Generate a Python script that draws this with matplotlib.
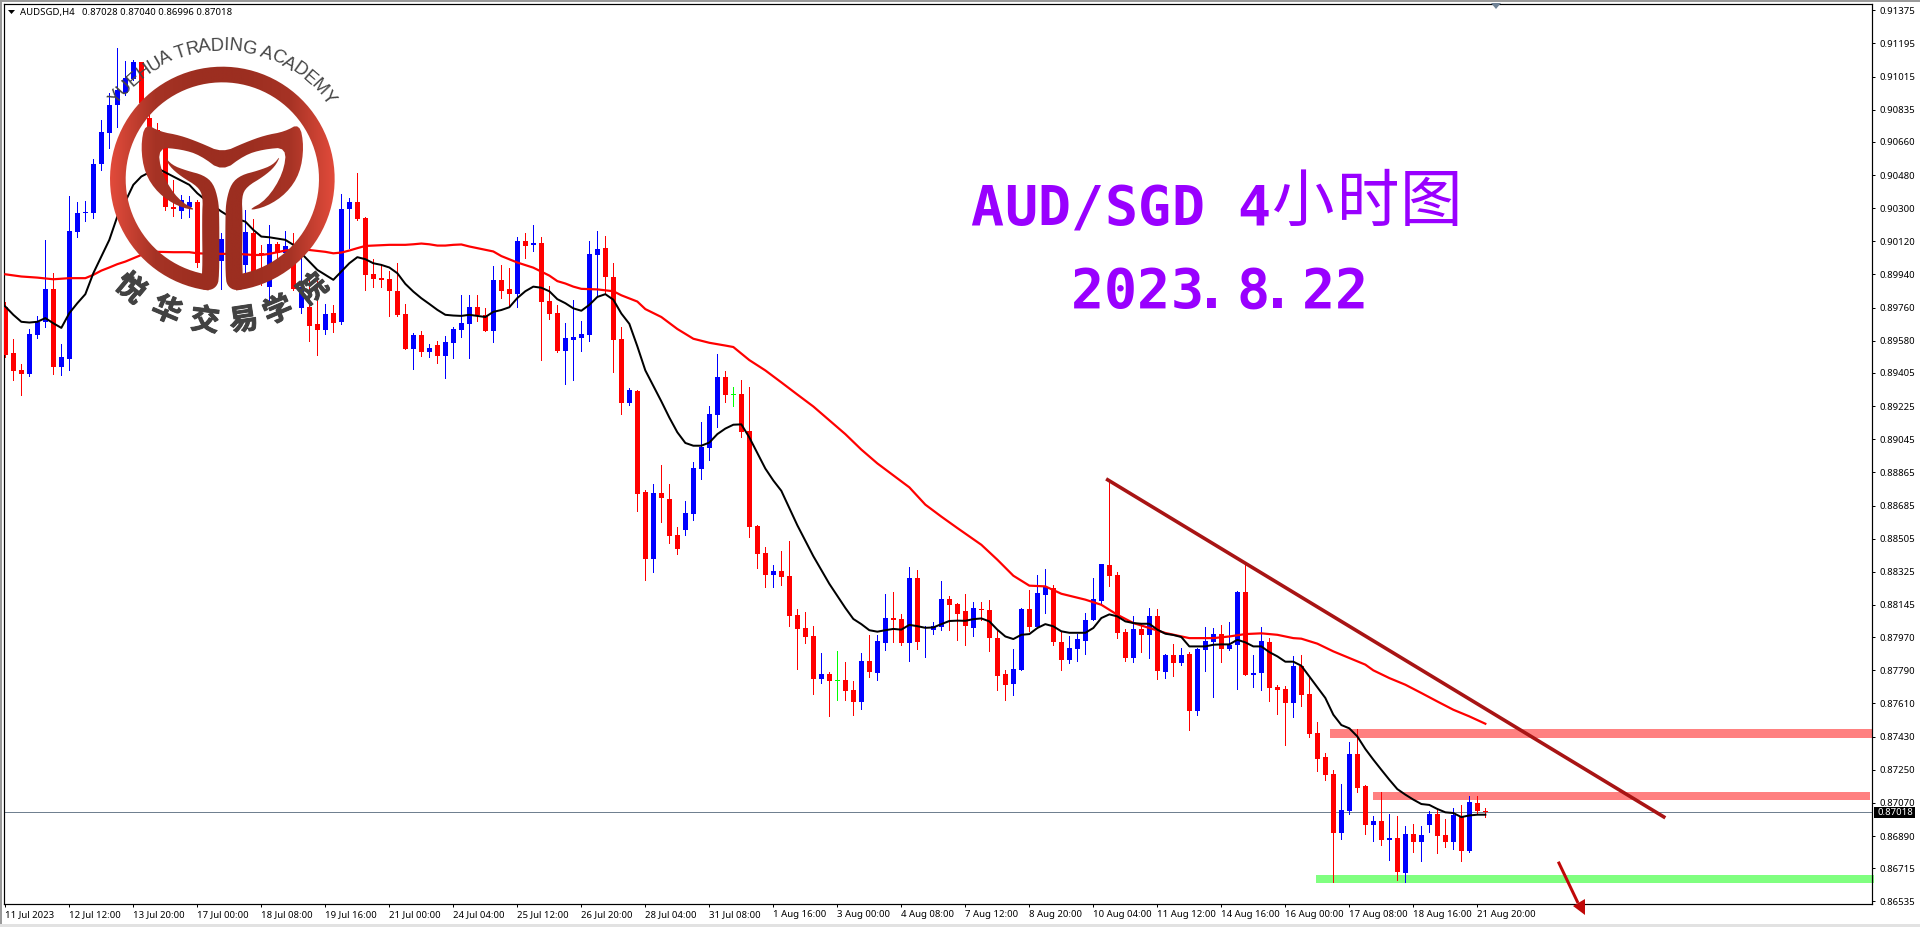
import numpy as np
import matplotlib
matplotlib.use('Agg')
import matplotlib.pyplot as plt
import matplotlib.patheffects as pe
from matplotlib.path import Path
from matplotlib.patches import PathPatch, Rectangle, Polygon
from matplotlib.colors import LinearSegmentedColormap
from matplotlib.font_manager import FontProperties
from matplotlib.textpath import text_to_path

# prices are kept in points (0.00001), bar by bar
opens = [89766,89512,89422,89400,89612,89681,89862,89440,89483,90171,
         90273,90276,90540,90709,90861,90924,91002,91094,90790,90725,
         90635,90305,90287,90305,90334,90010,89983,90014,90133,90182,
         89992,90166,90059,89873,90106,90055,90037,89757,89766,89672,
         89639,89731,89684,90296,90334,90247,89943,89921,89916,89851,
         89726,89536,89612,89520,89558,89498,89569,89639,89672,89764,
         89722,89634,89911,89863,89835,90122,90100,90111,89797,89732,
         89526,89584,89595,89612,90046,90085,89926,89590,89240,89307,
         88759,88393,88754,88722,88525,88550,88640,88886,88999,89178,
         89384,89288,89292,89090,88574,88428,88309,88331,88303,88092,
         88021,87978,87744,87772,87731,87738,87684,87619,87841,87778,
         87940,88075,88069,87940,88292,87948,88008,88026,88176,88152,
         88114,88021,88123,88119,87967,87772,87717,87793,88125,88027,
         88201,88239,87945,87848,87907,87951,88065,88168,88364,88309,
         88000,87859,88016,87983,88087,87783,87875,87831,87880,87571,
         87902,87945,87989,87907,87929,88217,87766,87777,87945,87701,
         87690,87614,87815,87663,87451,87321,87229,86908,87028,87337,
         87163,86952,86973,86870,86881,86691,86903,86859,86952,87011,
         86897,86859,87001,86811,87071,87028]
closes = [89503,89418,89400,89617,89684,89862,89440,89493,90177,90273,
          90276,90540,90714,90861,90942,91006,91094,90870,90707,90635,
          90309,90293,90345,90334,90003,89983,90037,90133,90182,90073,
          90171,89956,90045,90106,90055,90095,89860,89874,89661,89636,
          89726,89677,90296,90334,90242,89938,89916,89911,89851,89720,
          89536,89612,89520,89541,89498,89574,89645,89677,89764,89721,
          89634,89911,89851,89835,90122,90094,90109,89791,89726,89526,
          89595,89601,89618,90051,90079,89926,89582,89240,89313,88748,
          88393,88754,88724,88522,88451,88645,88890,89004,89184,89384,
          89287,89288,89085,88569,88423,88309,88331,88297,88086,88015,
          87970,87744,87772,87733,87731,87678,87619,87841,87781,87950,
          88075,88064,87940,88292,87946,87951,88030,88176,88146,88097,
          88029,88130,88116,87964,87761,87712,87799,88125,88027,88212,
          88244,87945,87848,87913,87962,88065,88179,88369,88304,87994,
          87859,88016,87983,88087,87788,87875,87831,87875,87571,87907,
          87951,87989,87907,87929,88217,87766,87775,87951,87696,87685,
          87614,87815,87658,87446,87310,87223,86908,87033,87337,87153,
          86952,86973,86870,86881,86696,86903,86859,86897,87011,86892,
          86859,87006,86811,87077,87028,87018]
highs = [89793,89588,89454,89643,89715,90128,89947,89563,90367,90334,
         90340,90568,90779,90924,91170,91100,91105,91094,90816,90761,
         90653,90454,90372,90367,90345,90019,90055,90166,90218,90200,
         90291,90242,90101,90209,90119,90177,90166,90037,89929,89929,
         89780,89775,90378,90356,90492,90253,90025,89992,89959,90003,
         89780,89621,89634,89563,89579,89607,89657,89829,89829,89829,
         89758,89986,89992,89977,90145,90165,90210,90145,89877,89775,
         89677,89803,89690,90122,90177,90149,90003,89655,89324,89313,
         88769,88802,88903,88802,88567,88712,88920,89139,89223,89509,
         89414,89330,89369,89330,88580,88460,88363,88439,88494,88123,
         88108,88032,87886,87779,87895,87835,87733,87886,87983,87983,
         88206,88217,88097,88352,88335,88030,88054,88277,88195,88157,
         88206,88159,88163,88174,88002,87793,87907,88130,88228,88309,
         88342,88255,88005,87974,87989,88103,88293,88369,88829,88326,
         88016,88087,88043,88130,88125,87880,87935,87913,87891,87909,
         88027,88021,88038,88054,88222,88373,87875,88027,87967,87712,
         87706,87869,87875,87757,87511,87341,87250,87174,87402,87473,
         87169,87001,87131,87011,87001,86946,86957,86946,87028,87033,
         86984,87044,87060,87109,87109,87040]
lows = [89494,89368,89286,89389,89596,89657,89400,89395,89422,90144,
        90231,90247,90508,90627,90741,90915,90997,90834,90689,90598,
        90291,90258,90247,90253,89981,89956,89965,89862,90110,90037,
        89947,89929,89883,89784,90001,89965,89856,89730,89581,89503,
        89617,89628,89672,90084,90236,89856,89873,89873,89715,89715,
        89536,89427,89498,89493,89460,89378,89487,89601,89487,89688,
        89634,89575,89812,89775,89765,90031,90065,89475,89698,89520,
        89346,89369,89526,89576,89821,89840,89408,89184,89229,88656,
        88282,88322,88597,88482,88423,88527,88608,88830,88933,89113,
        89245,89227,89060,88512,88348,88243,88243,88251,88030,87798,
        87936,87660,87723,87540,87630,87630,87546,87581,87755,87740,
        87901,87942,87929,87843,87906,87863,87989,88011,88008,87955,
        87929,87974,88065,87893,87685,87627,87658,87793,88005,88020,
        88099,87929,87790,87828,87842,87880,88065,88152,88250,87967,
        87842,87837,87891,87859,87745,87750,87761,87821,87468,87549,
        87788,87647,87837,87902,87690,87766,87701,87685,87625,87554,
        87386,87538,87598,87430,87245,87196,86639,86876,87011,87131,
        86903,86865,86843,86762,86653,86639,86805,86756,86914,86800,
        86832,86821,86756,86805,87011,86996]

# fast moving average, read bar by bar (a few bars sit behind the logo)
fast_bars = list(range(0, 18)) + [19, 21, 23, 24, 25, 27, 28] + list(range(30, 34)) + list(range(35, 186))
fast_ma = [89766,89721,89683,89679,89683,89703,89675,89650,89730,89784,89833,89947,90037,90128,90255,90336,90427,90472,
           90517,90472,90427,90381,90345,90282,90255,
           90227,90182,90146,90142,
           90128,90101,90055,90010,89965,89938,89911,89956,90001,90034,90023,90001,89992,89978,89947,89889,89847,89811,89780,89748,89721,89717,89715,89721,89715,
           89709,89737,89747,89762,89812,89849,89874,89868,89849,89806,89784,89756,89743,89775,89818,89833,89803,89728,89672,89550,
           89419,89335,89251,89163,89083,89025,89010,89010,89027,89073,89103,89124,89126,89055,88971,88886,88821,88765,88671,88578,
           88494,88410,88335,88260,88195,88129,88069,88041,88008,88000,88008,88015,88011,88037,88030,88021,88023,88041,88058,88060,
           88059,88068,88072,88056,88011,87974,87960,87983,87987,88020,88041,88029,88002,87994,87994,87994,88020,88074,88094,88083,
           88056,88047,88043,88043,88011,87989,87982,87971,87920,87920,87920,87929,87931,87931,87956,87942,87920,87920,87889,87866,
           87837,87837,87815,87757,87699,87640,87549,87493,87475,87431,87363,87305,87250,87196,87145,87115,87088,87064,87059,87037,
           87019,87015,86993,87002,87006,87006]

# slow moving average, read at the bars where it bends
slow_bars = [0,2,4,6,8,10,11,12,13,14,15,16,17,19,21,23,24,26,29,31,32,33,34,35,36,38,40,41,42,43,44,45,46,48,50,51,52,53,54,55,56,57,58,59,
             60,61,62,64,66,68,69,70,71,72,74,76,77,79,80,82,84,86,88,90,91,93,95,97,99,101,103,105,107,109,111,113,115,117,119,
             122,124,126,128,130,132,135,137,139,141,143,145,148,151,153,155,157,159,161,162,164,166,168,170,171,173,175,177,179,181,183,185]
slow_ma = [89941,89929,89923,89914,89920,89920,89938,89961,89978,89996,90010,90028,90046,90063,90061,90061,90055,90052,90052,90046,90046,90052,90061,90070,90073,90073,90063,90055,90059,90070,90083,90095,90097,90101,90101,90104,90108,90104,90097,90097,90101,90103,90092,90083,
           90074,90065,90040,90005,89977,89934,89904,89891,89874,89862,89859,89849,89827,89793,89752,89709,89644,89591,89569,89554,89546,89475,89419,89354,89288,89223,89148,89073,88989,88914,88849,88784,88690,88625,88563,
           88472,88391,88304,88250,88246,88206,88174,88146,88092,88047,88020,87993,87965,87965,87974,87987,87991,87983,87965,87962,87935,87893,87857,87821,87790,87748,87712,87667,87621,87576,87540,87500]

y_ticks = [0.91375,0.91195,0.91015,0.90835,0.90660,0.90480,0.90300,0.90120,0.89940,0.89760,0.89580,0.89405,0.89225,0.89045,
           0.88865,0.88685,0.88505,0.88325,0.88145,0.87970,0.87790,0.87610,0.87430,0.87250,0.87070,0.86890,0.86715,0.86535]
x_labels = ['11 Jul 2023','12 Jul 12:00','13 Jul 20:00','17 Jul 00:00','18 Jul 08:00','19 Jul 16:00','21 Jul 00:00','24 Jul 04:00',
            '25 Jul 12:00','26 Jul 20:00','28 Jul 04:00','31 Jul 08:00','1 Aug 16:00','3 Aug 00:00','4 Aug 08:00','7 Aug 12:00',
            '8 Aug 20:00','10 Aug 04:00','11 Aug 12:00','14 Aug 16:00','16 Aug 00:00','17 Aug 08:00','18 Aug 16:00','21 Aug 20:00']

W, H = 1920, 927
PX = 72 / 100  # one pixel in points
UI_FONT = 'Noto Sans'

fig = plt.figure(figsize=(W / 100, H / 100), dpi=100, facecolor='white')
ax = fig.add_axes([4 / W, 1 - 904 / H, (1872 - 4) / W, (904 - 4) / H])
ax.set_xlim((4 - 5.33) / 8, (1872 - 5.33) / 8)
ax.set_ylim(0.86521, 0.91409)

o = np.array(opens) / 1e5
c = np.array(closes) / 1e5
hi = np.array(highs) / 1e5
lo = np.array(lows) / 1e5
bars = np.arange(len(o))
colors = ['#00FF00' if a == b else ('#0000FF' if b > a else '#FF0000') for a, b in zip(o, c)]

# zones behind the candles
ax.add_patch(Rectangle((165.6, 0.87425), 70, 0.00047, color='#FF8080', lw=0, zorder=1))
ax.add_patch(Rectangle((171, 0.87087), 62.1, 0.00043, color='#FF8080', lw=0, zorder=1))
ax.add_patch(Rectangle((163.8, 0.86636), 69.8, 0.00044, color='#80FF80', lw=0, zorder=1, clip_on=False))

ax.axhline(0.87018, color='#708090', lw=PX, zorder=1.5)

ax.vlines(bars, lo, hi, colors=colors, lw=PX * 0.8, zorder=2, antialiased=False)
ax.bar(bars, np.maximum(np.abs(c - o), 0.00004), bottom=np.minimum(o, c), width=0.64, color=colors, lw=0, zorder=3, antialiased=False)

ax.plot(slow_bars, np.array(slow_ma) / 1e5, color='#FF0000', lw=PX * 2.2, zorder=4)
ax.plot(fast_bars, np.array(fast_ma) / 1e5, color='#000000', lw=PX * 2, zorder=5)
ax.plot([137.6, 207.5], [0.88830, 0.86989], color='#A81414', lw=PX * 3.6, zorder=6, solid_capstyle='butt')

ax.yaxis.tick_right()
ax.set_yticks(y_ticks)
ax.set_yticklabels(['%.5f' % v for v in y_ticks], fontsize=6.9, family=UI_FONT)
ax.set_xticks(np.arange(len(x_labels)) * 8)
ax.set_xticklabels(x_labels, fontsize=6.9, family=UI_FONT, ha='left')
ax.tick_params(axis='y', length=3 * PX, width=PX, pad=3)
ax.tick_params(axis='x', length=3 * PX, width=PX, pad=2)
for s in ax.spines.values():
    s.set_linewidth(PX * 1.2)

# overlay in pixel coordinates for everything pasted on top of the chart
top = fig.add_axes([0, 0, 1, 1], facecolor='none', zorder=10)
top.set_xlim(0, W)
top.set_ylim(H, 0)
top.axis('off')

top.add_patch(Rectangle((0, 0), W, 2, color='#9A9A9A', lw=0))
top.add_patch(Rectangle((0, 0), 2, H, color='#9A9A9A', lw=0))
top.add_patch(Rectangle((0, 924), W, 3, color='#E2E2E2', lw=0))

top.add_patch(Polygon([[8, 10], [15, 10], [11.5, 14]], color='black', lw=0))
top.text(20.5, 12.5, 'AUDSGD,H4', fontsize=6.9, family=UI_FONT, va='center', ha='left')
top.text(82, 12.5, '0.87028 0.87040 0.86996 0.87018', fontsize=6.9, family=UI_FONT, va='center', ha='left')
top.add_patch(Polygon([[1491, 3], [1501, 3], [1496, 9]], color='#6F8296', lw=0))
top.add_patch(Rectangle((1874, 807), 41, 11, color='black', lw=0))
top.text(1878, 812.7, '0.87018', color='white', fontsize=6.9, family=UI_FONT, va='center', ha='left')

# title text, each character in its own cell like the monospaced original
PURPLE = '#9900FF'


def cell_text(s, x0, baseline, step=33.4):
    for i, ch in enumerate(s):
        shift = -8 if ch == '.' else 0
        top.text(x0 + i * step + shift, baseline, ch, color=PURPLE, fontsize=39.5, family='DejaVu Sans Mono', weight='bold',
                 va='baseline', ha='center')


cell_text('AUD/SGD 4', 987, 224.7)
cell_text('2023.8.22', 1087.7, 308, step=33)
for ch, x in zip('小时图', [1303, 1368, 1431]):
    top.text(x, 203, ch, color=PURPLE, fontsize=45, family='Noto Sans CJK SC', va='center', ha='center')

# down arrow
top.plot([1558.3, 1578], [861.7, 903], color='#C00808', lw=PX * 3, solid_capstyle='butt')
top.add_patch(Polygon([[1585, 915], [1573, 906], [1585, 899]], color='#C00808', lw=0))


# logo, shapes traced at 3x around (100, 30)
def chaikin(pts, n=2):
    pts = np.array(pts, dtype=float)
    for _ in range(n):
        nxt = np.roll(pts, -1, axis=0)
        pts = np.column_stack([0.75 * pts + 0.25 * nxt, 0.25 * pts + 0.75 * nxt]).reshape(-1, 2)
    return pts


def mirror(pts):
    return [(734 - x, y) for x, y in pts]


cx, cy = 367, 447
t = np.radians(np.linspace(7, 353, 200))
outer = np.column_stack([cx - 337 * np.sin(t), cy + 337 * np.cos(t)])
t2 = np.radians(np.linspace(349, 11, 200))
inner = np.column_stack([cx - 290 * np.sin(t2), cy + 290 * np.cos(t2)])
ring = np.vstack([outer, inner])

sprout = [(192, 376), (215, 405), (260, 422), (310, 435), (340, 460), (355, 510), (358, 560), (358, 745), (350, 770), (328, 782),
          (298, 776), (308, 735), (306, 560), (309, 500), (294, 470), (244, 440), (209, 410)]
horn = [(135, 280), (180, 305), (240, 316), (300, 338), (367, 368), (434, 338), (494, 316), (554, 305), (599, 280),
        (612, 350), (600, 430), (560, 490), (500, 530), (440, 543), (500, 510), (550, 430), (560, 352), (490, 358), (434, 375),
        (367, 425), (300, 375), (244, 358), (174, 352), (184, 430), (234, 510), (294, 543), (234, 530), (174, 490), (134, 430), (122, 350)]

grad = LinearSegmentedColormap.from_list('logo', ['#E24B3B', '#A63325', '#9C2E20', '#9C2E20', '#A63325', '#E24B3B'])
for shape in [ring, chaikin(sprout), chaikin(mirror(sprout)), chaikin(horn)]:
    pts = np.array([[100, 30]]) + np.array(shape) / 3
    patch = PathPatch(Path(np.vstack([pts, pts[:1]])), transform=top.transData, fc='none', lw=0)
    top.add_patch(patch)
    im = top.imshow(np.linspace(0, 1, 256).reshape(1, -1), cmap=grad, extent=(110, 335, 300, 60), aspect='auto', zorder=8)
    im.set_clip_path(patch)
top.set_xlim(0, W)
top.set_ylim(H, 0)

lcx, lcy = 222.3, 179
word = 'YUEHUA TRADING ACADEMY'
fp = FontProperties(family='Liberation Sans', size=13.2)
widths = [text_to_path.get_text_width_height_descent(ch, fp, ismath=False)[0] for ch in word]
edges = np.concatenate([[0], np.cumsum(widths)])
mids = (edges[:-1] + edges[1:]) / 2 / edges[-1]
for ch, m in zip(word, mids):
    a = -55 + 110 * m
    top.text(lcx + 133 * np.sin(np.radians(a)), lcy - 133 * np.cos(np.radians(a)), ch, color='#454545', fontproperties=fp,
             rotation=-a, rotation_mode='anchor', ha='center', va='center', zorder=9)

for ch, a in zip('悦华交易学院', [-40, -23, -7, 8.6, 23, 39.5]):
    top.text(lcx + 142.7 * np.sin(np.radians(a)), lcy + 142.7 * np.cos(np.radians(a)), ch, color='#424242',
             family='Noto Sans CJK SC', weight='bold', fontsize=21, rotation=a, rotation_mode='anchor', ha='center', va='center', zorder=9,
             path_effects=[pe.withStroke(linewidth=0.7, foreground='#424242')])

fig.savefig('out.png', dpi=100)
